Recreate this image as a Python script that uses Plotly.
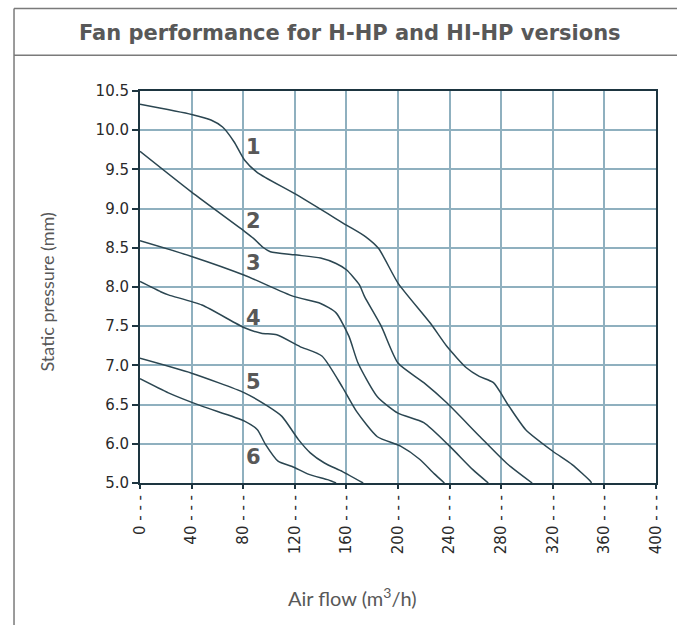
import numpy as np
import plotly.graph_objects as go

# ---- data (air flow m3/h, static pressure mm) ----
c1_x = [0, 40, 55, 64, 73, 81, 91, 120, 160, 175, 185, 200, 225, 238, 253, 263, 274, 286, 299, 320, 335, 349, 350]
c1_y = [10.33, 10.20, 10.13, 10.04, 9.85, 9.62, 9.46, 9.19, 8.79, 8.64, 8.49, 8.05, 7.54, 7.24, 6.97, 6.86, 6.78, 6.48, 6.18, 5.81, 5.47, 5.05, 5.0]

c2_x = [0, 40, 81, 88, 95, 101, 120, 140, 152, 160, 170, 174, 187, 200, 220, 238, 263, 284, 304]
c2_y = [9.73, 9.21, 8.71, 8.62, 8.51, 8.45, 8.41, 8.37, 8.30, 8.22, 8.03, 7.88, 7.50, 7.03, 6.78, 6.52, 6.10, 5.51, 5.0]

c3_x = [0, 40, 81, 119, 140, 152, 162, 169, 184, 200, 220, 240, 258, 270]
c3_y = [8.59, 8.39, 8.15, 7.88, 7.79, 7.67, 7.37, 7.03, 6.60, 6.39, 6.27, 5.94, 5.34, 5.0]

c4_x = [0, 16, 22, 48, 81, 94, 106, 124, 141, 157, 168, 184, 202, 217, 228, 236]
c4_y = [8.07, 7.94, 7.90, 7.77, 7.48, 7.41, 7.39, 7.24, 7.12, 6.72, 6.41, 6.09, 5.94, 5.60, 5.24, 5.0]

c5_x = [0, 40, 81, 99, 110, 123, 132, 143, 157, 173]
c5_y = [7.09, 6.90, 6.65, 6.48, 6.35, 6.05, 5.77, 5.51, 5.29, 5.0]

c6_x = [0, 22, 48, 81, 91, 97, 107, 118, 131, 146, 152]
c6_y = [6.83, 6.65, 6.48, 6.29, 6.18, 6.00, 5.56, 5.42, 5.22, 5.08, 5.0]

curve_names = ["1", "2", "3", "4", "5", "6"]
y_tick_labels = ["5.0", "6.0", "6.5", "7.0", "7.5", "8.0", "8.5", "9.0", "9.5", "10.0", "10.5"]
x_tick_values = [0, 40, 80, 120, 160, 200, 240, 280, 320, 360, 400]

# pressure axis is not linear: 5.0 -> 6.0 takes one grid step, then 0.5 per step
y_tick_pressures = [float(v) for v in y_tick_labels]
y_positions = list(range(len(y_tick_labels)))


def to_axis(p):
    return np.interp(p, y_tick_pressures, y_positions)


LINE = "#2b4651"
GRID = "#8fb0bf"
AXIS = "#1d3540"
TXT = "#585858"

fig = go.Figure()
for xs, ys, nm in zip([c1_x, c2_x, c3_x, c4_x, c5_x, c6_x],
                      [c1_y, c2_y, c3_y, c4_y, c5_y, c6_y], curve_names):
    fig.add_trace(go.Scatter(x=xs, y=to_axis(ys), mode="lines", name=nm,
                             line=dict(color=LINE, width=1.5, shape="spline", smoothing=0.6),
                             showlegend=False, hoverinfo="skip"))

# curve labels
label_pos = [(87.7, 8.574), (87.7, 6.683), (87.7, 5.606), (87.7, 4.206), (87.7, 2.566), (87.7, 0.667)]
for nm, (lx, ly) in zip(curve_names, label_pos):
    fig.add_annotation(x=lx, y=ly, text="<b>%s</b>" % nm, showarrow=False,
                       xanchor="center", yanchor="middle",
                       font=dict(family="DejaVu Sans", size=21, color=TXT))

L, R, T, B = 139.5, 661.7, 90.7, 483.5
W, H = R - L, B - T


def px(p):
    return (p - L) / W


def py(q):
    return (B - q) / H


# outer frame lines
frame = dict(color="#7a7a7a", width=1.5)
fig.add_shape(type="line", xref="paper", yref="paper", x0=px(12), x1=px(12), y0=py(8), y1=py(640), line=frame)
fig.add_shape(type="line", xref="paper", yref="paper", x0=px(12), x1=px(690), y0=py(8), y1=py(8), line=frame)
fig.add_shape(type="line", xref="paper", yref="paper", x0=px(12), x1=px(690), y0=py(55), y1=py(55), line=frame)

fig.add_annotation(xref="paper", yref="paper", x=px(352), y=py(33), xanchor="center", yanchor="middle",
                   text="<b>Fan performance for H-HP and HI-HP versions</b>",
                   showarrow=False, font=dict(family="DejaVu Sans", size=21, color=TXT))
fig.add_annotation(xref="paper", yref="paper", x=px(45), y=py(292), xanchor="center", yanchor="middle",
                   text="Static pressure (mm)", textangle=-90,
                   showarrow=False, font=dict(family="Lato", size=18, color=TXT))
fig.add_annotation(xref="paper", yref="paper", x=px(355), y=py(598), xanchor="center", yanchor="middle",
                   text="Air flow (m<sup>3</sup>/h)",
                   showarrow=False, font=dict(family="Lato", size=20, color=TXT))

fig.update_xaxes(range=[0, 400], tickvals=x_tick_values,
                 ticktext=["%d - - -" % v for v in x_tick_values], tickangle=-90,
                 showgrid=True, gridcolor=GRID, gridwidth=1.5,
                 showline=True, linecolor=AXIS, linewidth=2, mirror=True,
                 ticks="outside", ticklen=4, tickcolor=AXIS, tickwidth=1.5,
                 tickfont=dict(family="DejaVu Sans", size=15, color="#2a2a2a"),
                 zeroline=False, fixedrange=True)
fig.update_yaxes(range=[0, 10], tickvals=y_positions, ticktext=y_tick_labels,
                 showgrid=True, gridcolor=GRID, gridwidth=1.5,
                 showline=True, linecolor=AXIS, linewidth=2, mirror=True,
                 ticks="outside", ticklen=6, tickcolor=AXIS, tickwidth=1.5,
                 tickfont=dict(family="DejaVu Sans", size=15, color="#2a2a2a"),
                 zeroline=False, fixedrange=True)

fig.update_layout(width=677, height=625, autosize=False,
                  margin=dict(l=L, r=677 - R, t=T, b=625 - B, pad=0),
                  paper_bgcolor="white", plot_bgcolor="white")

fig.write_html("out.html", config={"responsive": False, "displayModeBar": False},
               post_script="document.documentElement.style.overflow='hidden';"
                           "document.body.style.overflow='hidden';"
                           "document.body.style.margin='0';document.body.style.padding='0';")
